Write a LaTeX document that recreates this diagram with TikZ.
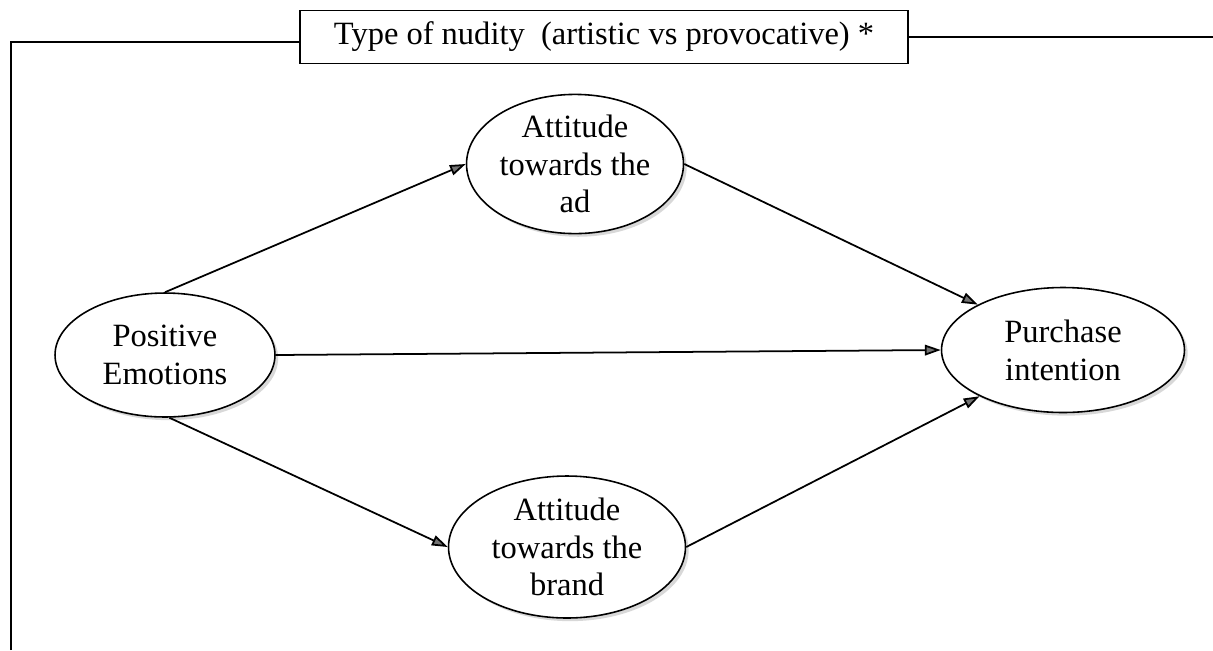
\documentclass[tikz,border=0pt]{standalone}
\usepackage{fontspec}
\setmainfont{Liberation Serif}
\usepackage{tikz}
\usetikzlibrary{arrows.meta,positioning,shapes.geometric,shadows}

\begin{document}
\begin{tikzpicture}[
  x=0.02cm, y=-0.02cm,
  construct/.style={draw, ellipse, line width=0.9pt, fill=white, inner sep=0pt,
              align=center, font=\fontsize{18.5}{21.5}\selectfont,
              drop shadow={shadow xshift=1.8pt, shadow yshift=-1.8pt, fill=gray!60}},
  modbox/.style={draw, rectangle, line width=1pt, minimum width=12.16cm,
              minimum height=1.06cm, font=\fontsize{18.5}{21.5}\selectfont},
  frame/.style={line width=1.1pt},
  arr/.style={-{Triangle[length=9pt, width=6pt, fill=black!55]}, line width=1pt}
]
\useasboundingbox (0,0) rectangle (1213,650);

% Nodes
\node[modbox] (nudity) at (604,37) {Type of nudity\ \ (artistic vs provocative) *};
\node[construct, minimum width=4.4cm, minimum height=2.48cm] (emo) at (165,355) {Positive\\Emotions};
\node[construct, minimum width=4.34cm, minimum height=2.6cm] (adatt) at (575,164) {Attitude\\towards the\\ad};
\node[construct, minimum width=4.74cm, minimum height=2.84cm] (brandatt) at (567,547) {Attitude\\towards the\\brand};
\node[construct, minimum width=4.86cm, minimum height=2.5cm] (purch) at (1063,350) {Purchase\\intention};

% Moderator frame
\coordinate (tl) at (11,42);
\coordinate (bl) at (11,650);
\coordinate (tr) at (1213,37);
\draw[frame] (bl) -- (tl) -- (tl -| nudity.west);
\draw[frame] (nudity.east |- tr) -- (tr);

% Paths
\draw[arr] (emo.north) -- (adatt.west);
\draw[arr] (adatt.east) -- (purch.152);
\draw[arr] (emo.east) -- (purch.west);
\draw[arr] (emo.-86) -- (brandatt.west);
\draw[arr] (brandatt.east) -- (purch.209);

\end{tikzpicture}
\end{document}
